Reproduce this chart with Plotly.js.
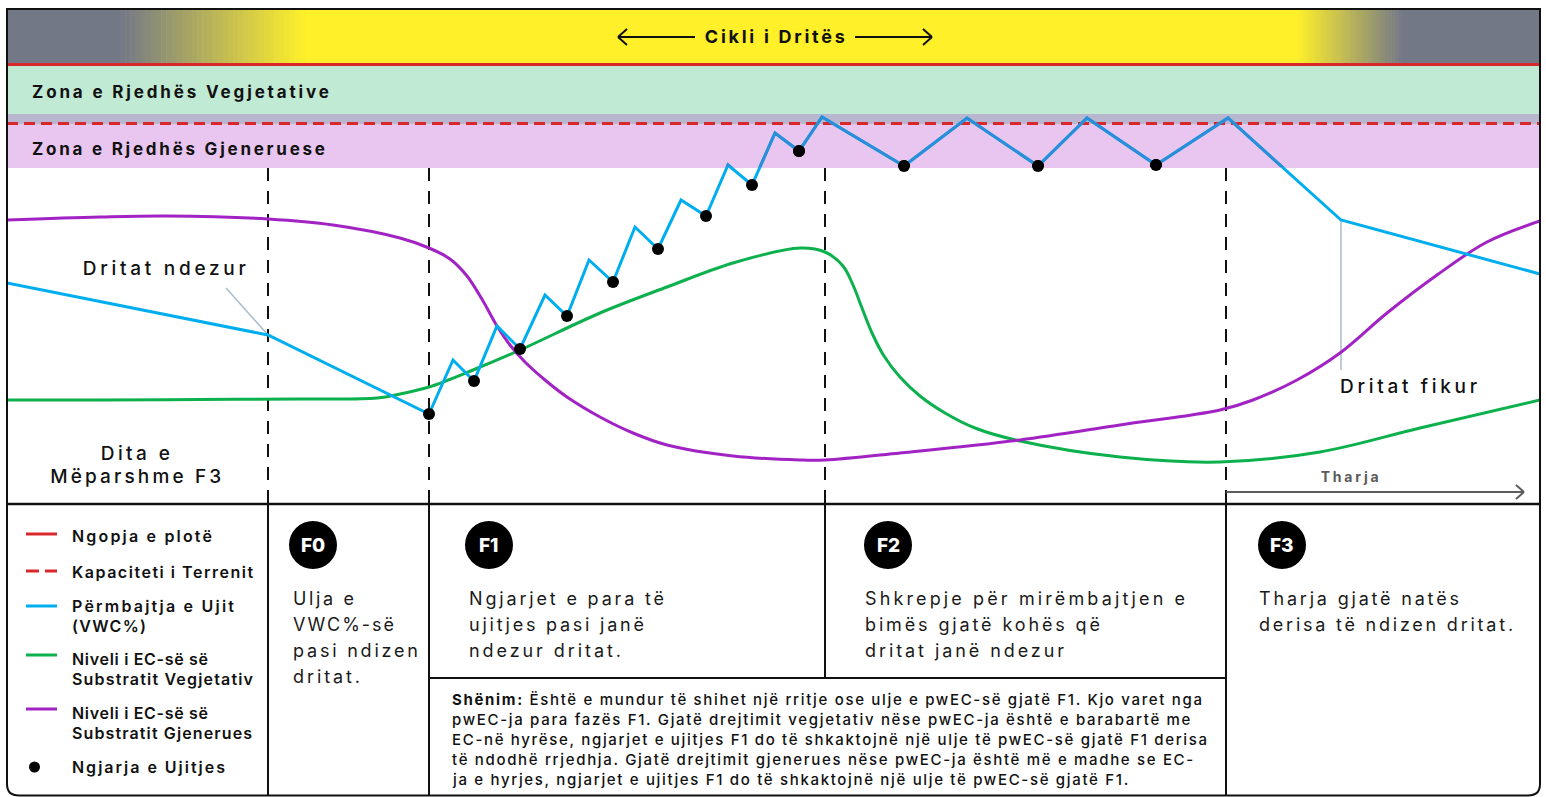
<!DOCTYPE html>
<html><head><meta charset="utf-8">
<script src="https://cdn.plot.ly/plotly-3.0.1.min.js"></script>
<style>html,body{margin:0;padding:0;background:#fff;}#chart{width:1546px;height:797px;}</style>
</head><body><div id="chart"></div>
<script>
// ---------------- DATA (time units across the window 0–153.3, level units 0–99) ----------------
const vwcTime  = [0, 26.1, 42.2, 44.6, 46.7, 49.0, 51.3, 53.8, 56.0, 58.2, 60.6, 62.8, 65.1, 67.4, 69.9, 72.1, 74.5, 76.8, 79.2, 81.5, 89.7, 96.0, 103.1, 108.0, 114.9, 122.1, 133.4, 153.3];
const vwcLevel = [44.4, 34.0, 18.2, 29.0, 24.8, 35.8, 31.2, 42.0, 37.8, 49.0, 44.6, 55.6, 51.2, 61.0, 57.8, 68.0, 64.0, 74.4, 70.8, 77.6, 67.8, 77.4, 67.8, 77.4, 68.0, 77.4, 57.0, 46.2];

const irrigationTime  = [42.2, 46.7, 51.3, 56.0, 60.6, 65.1, 69.9, 74.5, 79.2, 89.7, 103.1, 114.9];
const irrigationLevel = [18.2, 24.8, 31.2, 37.8, 44.6, 51.2, 57.8, 64.0, 70.8, 67.8, 67.8, 68.0];

const ecVegTime  = [0, 9.3, 19.3, 29.3, 37.0, 39.3, 42.2, 46.6, 51.3, 59.3, 66.0, 72.6, 79.3, 81.8, 83.6, 84.6, 85.5, 86.5, 87.7, 89.3, 91.3, 93.8, 96.8, 101.3, 111.3, 121.3, 131.3, 141.3, 153.3];
const ecVegLevel = [21.0, 21.0, 21.1, 21.2, 21.4, 22.2, 23.6, 27.0, 31.0, 38.4, 43.6, 48.4, 51.4, 50.6, 47.8, 44.0, 39.4, 34.4, 29.8, 25.6, 21.8, 18.4, 15.4, 12.8, 9.6, 8.6, 10.6, 15.4, 21.0];

const ecGenTime  = [0, 9.3, 16.0, 26.1, 32.6, 39.3, 42.2, 44.3, 46.0, 47.6, 49.0, 50.3, 51.8, 53.8, 56.0, 59.3, 62.6, 66.0, 72.6, 79.3, 81.8, 89.3, 101.3, 111.3, 121.3, 124.6, 129.0, 133.3, 138.0, 143.0, 148.0, 153.3];
const ecGenLevel = [57.0, 57.6, 57.8, 57.2, 56.0, 53.4, 51.4, 49.2, 45.8, 40.8, 35.8, 32.0, 28.6, 25.0, 21.6, 17.6, 14.4, 12.0, 9.8, 9.0, 9.0, 10.4, 13.0, 16.0, 19.0, 21.0, 25.0, 30.4, 38.4, 46.0, 52.6, 56.8];

const saturationLevel    = 88.1;   // Ngopja e plotë
const fieldCapacityLevel = 76.3;   // Kapaciteti i Terrenit
const vegZone = [78.2, 87.8];      // Zona e Rjedhës Vegjetative
const bufferZone = [76.2, 78.2];
const genZone = [67.4, 76.2];      // Zona e Rjedhës Gjeneruese

const phaseBoundaries = [26.1, 42.2, 81.8, 121.9];
const lightsOnTime  = 26.1;
const lightsOffTime = 133.4;

const phaseBadges = ['F0', 'F1', 'F2', 'F3'];
const phaseTexts = [
  ['Ulja e', 'VWC%-së', 'pasi ndizen', 'dritat.'],
  ['Ngjarjet e para të', 'ujitjes pasi janë', 'ndezur dritat.'],
  ['Shkrepje për mirëmbajtjen e', 'bimës gjatë kohës që', 'dritat janë ndezur'],
  ['Tharja gjatë natës', 'derisa të ndizen dritat.']
];
const legendLabels = [
  ['Ngopja e plotë'],
  ['Kapaciteti i Terrenit'],
  ['Përmbajtja e Ujit', '(VWC%)'],
  ['Niveli i EC-së së', 'Substratit Vegjetativ'],
  ['Niveli i EC-së së', 'Substratit Gjenerues'],
  ['Ngjarja e Ujitjes']
];
const noteLines = [
  '<b>Shënim:</b> Është e mundur të shihet një rritje ose ulje e pwEC-së gjatë F1. Kjo varet nga',
  'pwEC-ja para fazës F1. Gjatë drejtimit vegjetativ nëse pwEC-ja është e barabartë me',
  'EC-në hyrëse, ngjarjet e ujitjes F1 do të shkaktojnë një ulje të pwEC-së gjatë F1 derisa',
  'të ndodhë rrjedhja. Gjatë drejtimit gjenerues nëse pwEC-ja është më e madhe se EC-',
  'ja e hyrjes, ngjarjet e ujitjes F1 do të shkaktojnë një ulje të pwEC-së gjatë F1.'
];

// ---------------- STYLE ----------------
const C_BLUE = '#00aeef', C_BLUE_ZONE = '#2c8dd8', C_GREEN = '#0cb04c', C_PURPLE = '#a223c3', C_RED = '#d8282c';
const FG = "Inter, 'Noto Sans', sans-serif";
const W = 1546, H = 797;
const X = p => p / W, Y = p => 1 - p / H;

// ---------------- TRACES ----------------
const traces = [
  {x: ecVegTime, y: ecVegLevel, mode: 'lines', line: {color: C_GREEN, width: 3, shape: 'spline', smoothing: 1}, hoverinfo: 'skip'},
  {x: ecGenTime, y: ecGenLevel, mode: 'lines', line: {color: C_PURPLE, width: 3, shape: 'spline', smoothing: 1}, hoverinfo: 'skip'},
  {x: vwcTime, y: vwcLevel, mode: 'lines', line: {color: C_BLUE, width: 3}, hoverinfo: 'skip'},
  {x: vwcTime, y: vwcLevel, yaxis: 'y2', mode: 'lines', line: {color: C_BLUE_ZONE, width: 3}, hoverinfo: 'skip'},
  {x: irrigationTime, y: irrigationLevel, mode: 'markers', marker: {color: '#000', size: 12}, hoverinfo: 'skip'},
  {x: irrigationTime, y: irrigationLevel, yaxis: 'y2', mode: 'markers', marker: {color: '#000', size: 12}, hoverinfo: 'skip'}
];

// ---------------- SHAPES ----------------
const shapes = [];
const rectP = (x0, y0, x1, y1, color, layer) => shapes.push({type: 'rect', xref: 'paper', yref: 'paper', x0: X(x0), x1: X(x1), y0: Y(y1), y1: Y(y0), fillcolor: color, line: {width: 0}, layer: layer || 'below'});
const lineP = (x0, y0, x1, y1, color, width, dash, layer) => shapes.push({type: 'line', xref: 'paper', yref: 'paper', x0: X(x0), x1: X(x1), y0: Y(y0), y1: Y(y1), line: {color, width, dash: dash || 'solid'}, layer: layer || 'above'});
function mix(a, b, t) { return 'rgb(' + a.map((v, i) => Math.round(v + (b[i] - v) * t)).join(',') + ')'; }
const GRAY = [115, 120, 135], YEL = [255, 240, 42];
// light-cycle band
rectP(7, 10, 121, 64, mix(GRAY, GRAY, 0));
rectP(304, 10, 1298, 64, mix(YEL, YEL, 0));
rectP(1402, 10, 1540, 64, mix(GRAY, GRAY, 0));
const N = 36;
for (let i = 0; i < N; i++) {
  const t = (i + 0.5) / N;
  rectP(120 + 185 * i / N, 10, 120 + 185 * (i + 1) / N + 0.6, 64, mix(GRAY, YEL, t));
  rectP(1297 + 106 * i / N, 10, 1297 + 106 * (i + 1) / N + 0.6, 64, mix(YEL, GRAY, t));
}
// zones (level units)
const zoneRect = (z, color) => shapes.push({type: 'rect', xref: 'paper', yref: 'y', x0: X(7), x1: X(1540), y0: z[0], y1: z[1], fillcolor: color, line: {width: 0}, layer: 'below'});
zoneRect(vegZone, '#c1ead4');
zoneRect(bufferZone, '#b9b6cf');
zoneRect(genZone, '#e8c6ef');
shapes.push({type: 'line', xref: 'paper', yref: 'y', x0: X(7), x1: X(1540), y0: saturationLevel, y1: saturationLevel, line: {color: C_RED, width: 3}, layer: 'below'});
shapes.push({type: 'line', xref: 'paper', yref: 'y', x0: X(7), x1: X(1540), y0: fieldCapacityLevel, y1: fieldCapacityLevel, line: {color: C_RED, width: 3, dash: '11px,6px'}, layer: 'below'});
// phase boundaries (dashed in chart, solid in table)
phaseBoundaries.forEach((b, i) => {
  shapes.push({type: 'line', xref: 'x', yref: 'paper', x0: b, x1: b, y0: Y(168), y1: Y(504), line: {color: '#111', width: 2, dash: '13px,10px'}, layer: 'below'});
  shapes.push({type: 'line', xref: 'x', yref: 'paper', x0: b, x1: b, y0: Y(504), y1: Y(i === 2 ? 678 : 796), line: {color: '#111', width: 2}, layer: 'above'});
});
lineP(7, 504, 1540, 504, '#111', 2.5);
lineP(428, 678, 1226, 678, '#111', 2);
// outer frame
const fr = `M ${X(7)},${Y(9)} L ${X(7)},${Y(784)} Q ${X(7)},${Y(795.5)} ${X(19)},${Y(795.5)} L ${X(1528)},${Y(795.5)} Q ${X(1540)},${Y(795.5)} ${X(1540)},${Y(784)} L ${X(1540)},${Y(9)} Z`;
shapes.push({type: 'path', xref: 'paper', yref: 'paper', path: fr, line: {color: '#111', width: 2}, layer: 'above'});
// Cikli arrows
lineP(618, 37, 695, 37, '#111', 2); lineP(627, 29, 618, 37, '#111', 2); lineP(627, 45, 618, 37, '#111', 2);
lineP(855, 37, 932, 37, '#111', 2); lineP(923, 29, 932, 37, '#111', 2); lineP(923, 45, 932, 37, '#111', 2);
// Tharja arrow
lineP(1226, 492, 1524, 492, '#5c5c5c', 2); lineP(1516, 485, 1524, 492, '#5c5c5c', 2); lineP(1516, 499, 1524, 492, '#5c5c5c', 2);
// pointer lines to lights on / off
shapes.push({type: 'line', xref: 'x', yref: 'y', x0: 21.9, y0: 43.4, x1: lightsOnTime, y1: vwcLevel[1], line: {color: '#a9bccc', width: 1.5}, layer: 'below'});
shapes.push({type: 'line', xref: 'x', yref: 'y', x0: lightsOffTime, y0: vwcLevel[26], x1: lightsOffTime, y1: 27, line: {color: '#a9bccc', width: 1.5}, layer: 'below'});
// phase badges
const badgeX = [313, 489, 888, 1282];
badgeX.forEach(cx => shapes.push({type: 'circle', xref: 'paper', yref: 'paper', x0: X(cx - 24), x1: X(cx + 24), y0: Y(545 + 24), y1: Y(545 - 24), fillcolor: '#000', line: {width: 0}, layer: 'above'}));
// legend samples
const legY = [534, 571, 606, 655, 709, 767];
lineP(26, legY[0], 57, legY[0], C_RED, 3);
lineP(26, legY[1], 57, legY[1], C_RED, 3, '13px,6px');
lineP(26, legY[2], 57, legY[2], C_BLUE, 3);
lineP(26, legY[3], 57, legY[3], C_GREEN, 3);
lineP(26, legY[4], 57, legY[4], C_PURPLE, 3);
shapes.push({type: 'circle', xref: 'paper', yref: 'paper', x0: X(29), x1: X(40), y0: Y(772.5), y1: Y(761.5), fillcolor: '#000', line: {width: 0}, layer: 'above'});

// ---------------- ANNOTATIONS ----------------
// each text can be fitted to the reference's rendered width (px) via letter-spacing
const anns = [], fitW = [], grp = [];
function T(text, x, y, o) {
  o = o || {};
  anns.push({text, x: X(x), y: Y(y), xref: 'paper', yref: 'paper', showarrow: false,
    xanchor: o.anchor || 'left', align: o.anchor || 'left', yanchor: 'middle',
    font: {family: FG, size: o.size || 16, color: o.color || '#111', weight: o.weight || 400}});
  fitW.push(o.fit || 0); grp.push(o.grp || '');
}
T('Cikli i Dritës', 776, 37, {anchor: 'center', size: 18, weight: 700, fit: 140});
T('Zona e Rjedhës Vegjetative', 30, 92, {size: 17, weight: 700, fit: 297});
T('Zona e Rjedhës Gjeneruese', 30, 149, {size: 17, weight: 700, fit: 293});
T('Dritat ndezur', 166, 268, {anchor: 'center', size: 19, weight: 500, fit: 163});
T('Dritat fikur', 1338, 386, {size: 19, weight: 500, fit: 137});
T('Dita e', 137, 453, {anchor: 'center', size: 19, weight: 500, fit: 69});
T('Mëparshme F3', 137, 476, {anchor: 'center', size: 19, weight: 500, fit: 171});
T('Tharja', 1351, 476, {anchor: 'center', size: 14, weight: 700, color: '#5c5c5c', fit: 58});
// legend
const legTextY = [[536], [572], [606, 626], [659, 679], [713, 733], [767]];
const legFit = [[140], [181], [162, 74], [136, 181], [136, 180], [153]];
legendLabels.forEach((lines, i) => lines.forEach((s, j) => T(s, 70, legTextY[i][j], {size: 16, weight: 600, fit: legFit[i][j]})));
// badges & phase text
phaseBadges.forEach((b, i) => T(b, badgeX[i], 545, {anchor: 'center', size: 19, weight: 800, color: '#fff'}));
const phaseTextX = [291, 467, 863, 1257];
const phaseFit = [[61, 101, 125, 67], [195, 175, 152], [320, 235, 199], [200, 254]];
phaseTexts.forEach((lines, i) => lines.forEach((s, j) => {
  T(s, phaseTextX[i], 598 + 26 * j, {size: 18, weight: 400, color: '#1a1a1a', fit: phaseFit[i][j]});
}));
noteLines.forEach((s, j) => T(s, 450, 699 + 20 * j, {size: 15, weight: 500, color: '#111', fit: j === 0 ? 750 : 0, grp: 'note'}));

// ---------------- LAYOUT ----------------
const layout = {
  width: W, height: H, margin: {l: 0, r: 0, t: 0, b: 0},
  paper_bgcolor: '#fff', plot_bgcolor: 'rgba(0,0,0,0)', showlegend: false,
  xaxis: {domain: [X(7), X(1540)], range: [0, 153.3], visible: false, fixedrange: true},
  yaxis: {domain: [Y(505), Y(10)], range: [0, 99], visible: false, fixedrange: true},
  yaxis2: {domain: [Y(167), Y(10)], range: [67.6, 99], visible: false, fixedrange: true, anchor: 'x'},
  shapes, annotations: anns
};
const gd = document.getElementById('chart');
Plotly.newPlot(gd, traces, layout, {staticPlot: true, displayModeBar: false}).then(() => {
  const items = [];
  gd.querySelectorAll('g.annotation').forEach(g => {
    const i = +g.getAttribute('data-index');
    const t = g.querySelector('text.annotation-text');
    if (t) items.push({i, t});
  });
  const groupLS = {};
  items.forEach(({i, t}) => {
    if (!fitW[i]) return;
    const n = t.textContent.length;
    const w = t.getComputedTextLength();
    const ls = Math.max(-0.5, Math.min(5, (fitW[i] - w) / Math.max(1, n - 1)));
    t.style.letterSpacing = ls.toFixed(2) + 'px';
    if (grp[i] && groupLS[grp[i]] === undefined) groupLS[grp[i]] = ls;
  });
  items.forEach(({i, t}) => {
    if (!fitW[i] && grp[i] && groupLS[grp[i]] !== undefined) t.style.letterSpacing = groupLS[grp[i]].toFixed(2) + 'px';
  });
});
</script></body></html>
